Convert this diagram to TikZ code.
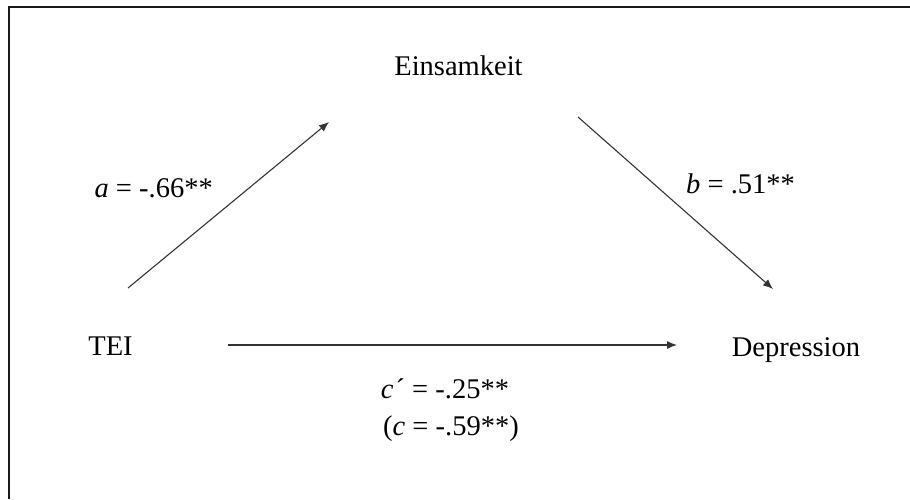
\documentclass[tikz,border=0pt]{standalone}
\usepackage{fontspec}
\setmainfont{Liberation Serif}
\usetikzlibrary{arrows.meta}
\definecolor{med-line}{HTML}{333333}
\definecolor{med-frame}{HTML}{1A1A1A}

\begin{document}
\begin{tikzpicture}[x=1pt, y=-1pt,
    var/.style={inner sep=0pt, anchor=base, font=\fontsize{28.5}{34}\selectfont},
    coef/.style={inner sep=0pt, font=\fontsize{28.5}{34}\selectfont},
    medarrow/.style={draw=med-line, line width=1.1pt, -{Latex[length=10pt, width=8pt]}}]

    \useasboundingbox (0, 0) rectangle (910, 499);

    % Frame: only the top and left edges are in view
    \draw[med-frame, line width=1.8pt] (9, 499) -- (9, 7) -- (910, 7);

    % Variables
    \node[var] (ein) at (458.5, 75) {Einsamkeit};
    \node[var] (tei) at (110.5, 355) {TEI};
    \node[var] (dep) at (796, 356) {Depression};

    % Arrow end points
    \coordinate (a-from) at (128, 288);
    \coordinate (a-to) at (329, 122);
    \coordinate (b-from) at (578, 117);
    \coordinate (b-to) at (773, 289);
    \coordinate (c-from) at (228, 345);
    \coordinate (c-to) at (677, 345);

    % Paths
    \draw[medarrow] (a-from) -- (a-to);
    \draw[medarrow] (b-from) -- (b-to);
    \draw[medarrow] (c-from) -- (c-to);

    % Coefficients
    \node[coef, anchor=base east] (a-coef) at (213, 197) {\textit{a} = -.66**};
    \node[coef, anchor=base west] (b-coef) at (686, 193) {\textit{b} = .51**};
    \node[coef, anchor=base] (cp-coef) at (445, 398) {\textit{c}\kern2pt´ = -.25**};
    \node[coef, anchor=base] (c-coef) at (451, 435) {(\textit{c} = -.59**)};
\end{tikzpicture}
\end{document}
